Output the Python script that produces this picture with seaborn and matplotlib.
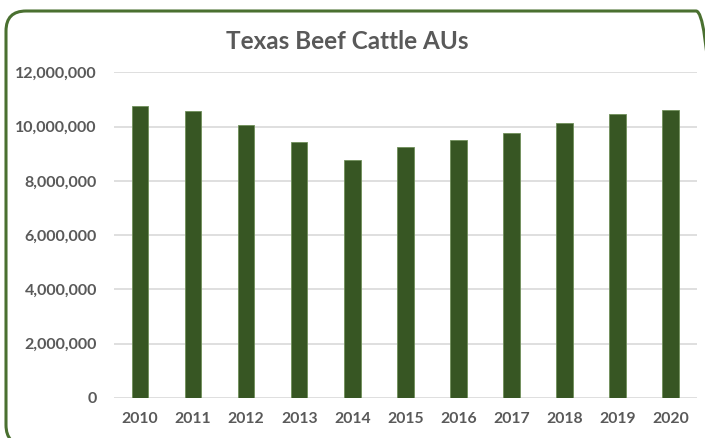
import matplotlib
matplotlib.use("Agg")
import matplotlib.pyplot as plt
import seaborn as sns
import pandas as pd
from matplotlib.patches import FancyBboxPatch
from matplotlib.transforms import IdentityTransform
from matplotlib.ticker import FuncFormatter

years = ["2010", "2011", "2012", "2013", "2014", "2015", "2016", "2017", "2018", "2019", "2020"]
aus = [10775000, 10590000, 10070000, 9435000, 8770000, 9250000, 9510000, 9770000, 10140000, 10470000, 10620000]

df = pd.DataFrame({"Year": years, "AUs": aus})

sns.set_theme(style="white")
plt.rcParams['font.family'] = ['Lato', 'DejaVu Sans']

fig = plt.figure(figsize=(7.05, 4.38), dpi=100)
ax = fig.add_axes([0.161, 0.092, 0.828, 0.7425])

sns.barplot(data=df, x="Year", y="AUs", color="#375623", width=0.31,
            edgecolor="#6f8f5a", linewidth=0.6, saturation=1, ax=ax, zorder=3)

ax.set_ylim(0, 12000000)
ax.set_xlim(-0.5, 10.5)
ax.set_yticks(range(0, 12000001, 2000000))
ax.yaxis.set_major_formatter(FuncFormatter(lambda v, p: f"{int(v):,}"))
ax.grid(axis="y", color="#d9d9d9", linewidth=1.2, zorder=0)
ax.grid(axis="x", visible=False)
for s in ax.spines.values():
    s.set_visible(False)
ax.set_xlabel("")
ax.set_ylabel("")
ax.tick_params(axis="y", length=0, pad=12, labelsize=11.5, labelcolor="#595959")
ax.tick_params(axis="x", length=0, pad=10, labelsize=11.3, labelcolor="#595959")
for lab in ax.get_xticklabels() + ax.get_yticklabels():
    lab.set_fontweight("bold")

fig.text(0.492, 0.905, "Texas Beef Cattle AUs", ha="center", va="center",
         fontsize=17.5, fontweight="bold", color="#595959")

# rounded frame in pixel coordinates (dpi 100, saved at same dpi); right and
# bottom edges run just past the image like in the reference
frame = FancyBboxPatch((6, -7), 710, 434, transform=IdentityTransform(),
                       boxstyle="round,pad=0,rounding_size=20",
                       facecolor="none", edgecolor="#4a7030", linewidth=2.2)
fig.patches.append(frame)

fig.savefig("out.png", dpi=100)
